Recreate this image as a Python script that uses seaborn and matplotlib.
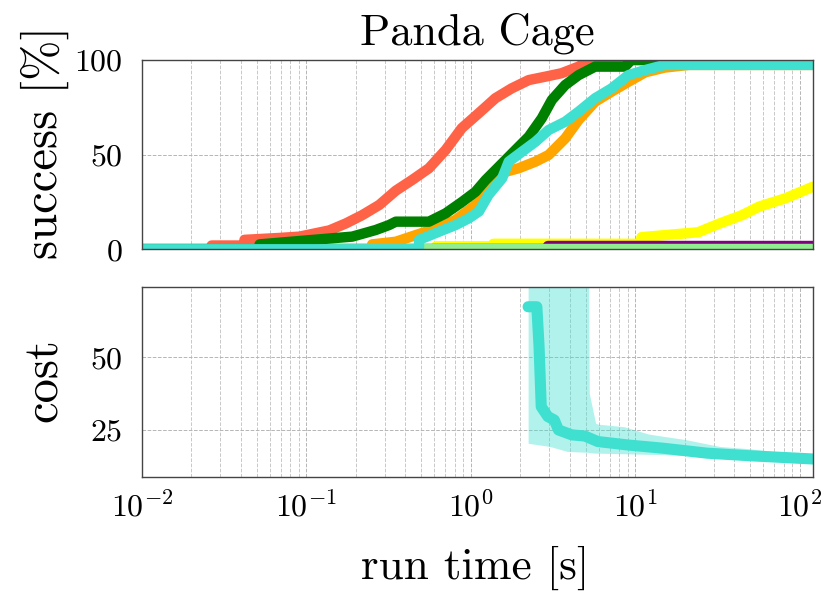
import numpy as np
import pandas as pd
import seaborn as sns
import matplotlib.pyplot as plt
from matplotlib.ticker import LogLocator, NullFormatter

# success curves, time [s] and success [%]
red_t = [0.01, 0.0265, 0.0265, 0.042, 0.042, 0.0686, 0.0908, 0.138, 0.174, 0.218, 0.277, 0.350,
         0.439, 0.556, 0.703, 0.881, 1.12, 1.41, 1.77, 2.25, 2.84, 3.56, 4.52, 5.34, 120]
red_s = [0, 0, 2, 2, 5, 6, 6.7, 10, 13.7, 18, 23.4, 31,
         36.6, 42.8, 52.5, 64, 72, 79.8, 85, 89.4, 91.2, 93, 96.5, 100, 100]

green_t = [0.01, 0.0519, 0.0519, 0.107, 0.190, 0.264, 0.318, 0.350, 0.556, 0.703, 0.883, 1.068,
           1.23, 1.48, 1.87, 2.25, 2.70, 3.11, 3.75, 4.52, 5.70, 8.66, 9.46, 120]
green_s = [0, 0, 2.6, 4.9, 6.7, 10.2, 12.8, 14.6, 14.6, 19, 25, 30.4,
           36.6, 43.6, 52.5, 59.5, 69.2, 78.9, 86.8, 92, 96.5, 96.5, 100, 100]

orange_t = [0.01, 0.251, 0.251, 0.350, 0.462, 0.611, 0.807, 1.068, 1.25, 1.48, 1.95, 2.47,
            2.97, 3.75, 4.52, 5.70, 7.18, 9.08, 11.5, 15.1, 21.2, 120]
orange_s = [0, 0, 2.6, 4, 7.5, 11, 15.5, 23.4, 33, 40, 42.8, 46.3,
            49.8, 58.6, 68.3, 78, 83.3, 88.5, 93.5, 96, 97.4, 97.4]

turq_t = [0.01, 0.484, 0.484, 0.640, 0.807, 0.973, 1.12, 1.28, 1.55, 1.70, 2.05, 2.47,
          2.97, 3.75, 4.52, 5.70, 7.18, 9.08, 11.5, 15.1, 120]
turq_s = [0, 0, 5, 9.3, 12.8, 16.4, 20, 28.7, 37.5, 46.3, 51.6, 56.8,
          63, 67.4, 72.7, 79.8, 85, 92, 94.7, 97.4, 97.4]

yellow_t = [0.01, 0.614, 0.614, 1.37, 1.37, 10.9, 10.9, 24.1, 32.7, 44.5, 56.5, 82.2, 120]
yellow_s = [0, 0, 1.6, 1.6, 2.9, 2.9, 6.4, 9, 13.7, 18, 22.5, 27, 33]

purple_t = [0.01, 2.93, 2.93, 120]
purple_s = [0, 0, 2, 2]

lgreen_t = [0.01, 120]
lgreen_s = [0, 0]

# cost of the turquoise planner
cost_t = [2.23, 2.52, 2.60, 2.68, 2.94, 3.22, 3.41, 4.11, 4.93, 5.92, 9.08, 14.8, 27.3, 50.2, 120]
cost_v = [67.4, 67.4, 53.6, 33, 29.6, 28.4, 25, 23.3, 22.9, 21, 19.8, 18.7, 17, 16.1, 15]

band_t = [2.23, 3.03, 3.86, 5.09, 5.25, 5.74, 5.92, 8.55, 12.0, 14.8, 20.1, 32.7, 50.2, 68.2, 120]
band_lo = [20.4, 19.3, 17.6, 17.3, 17.2, 17.0, 17.0, 16.8, 16.6, 16.5, 16.2, 15.6, 14.8, 14.3, 13.4]
band_hi = [200, 200, 200, 200, 37.6, 27.3, 27, 26.1, 23.6, 22.8, 21.7, 19.3, 18.5, 17.6, 16.8]

series = {
    'yellow': (yellow_t, yellow_s),
    'purple': (purple_t, purple_s),
    'lightgreen': (lgreen_t, lgreen_s),
    'tomato': (red_t, red_s),
    'orange': (orange_t, orange_s),
    'green': (green_t, green_s),
    'turquoise': (turq_t, turq_s),
}
rows = []
for name, (tt, ss) in series.items():
    for a, b in zip(tt, ss):
        rows.append({'planner': name, 'time': a, 'success': b})
df = pd.DataFrame(rows)

sns.set_theme(style='white')
plt.rcParams['font.family'] = 'serif'
plt.rcParams['font.serif'] = ['cmr10', 'DejaVu Serif']
plt.rcParams['mathtext.fontset'] = 'cm'
plt.rcParams['axes.formatter.use_mathtext'] = True
plt.rcParams['axes.unicode_minus'] = False
for key in ('text.color', 'axes.labelcolor', 'xtick.color', 'ytick.color'):
    plt.rcParams[key] = 'black'

fig = plt.figure(figsize=(8.3, 5.98), dpi=100)
W, H = 830, 598
ax1 = fig.add_axes([142 / W, 1 - 249.3 / H, 670.7 / W, 189.3 / H])
ax2 = fig.add_axes([142 / W, 1 - 476.7 / H, 670.7 / W, 190 / H])

lw = 7.5
sns.lineplot(data=df, x='time', y='success', hue='planner', units='planner', estimator=None,
             sort=False, hue_order=list(series.keys()),
             palette={k: k for k in series}, lw=lw, legend=False, ax=ax1)
ax1.set_ylim(0, 100)
ax1.set_yticks([0, 50, 100])

ax2.fill_between(band_t, band_lo, band_hi, color='turquoise', alpha=0.4, lw=0)
sns.lineplot(x=cost_t, y=cost_v, color='turquoise', lw=8, ax=ax2, sort=False)
ax2.set_ylim(8.9, 74.3)
ax2.set_yticks([25, 50])

for ax in (ax1, ax2):
    ax.set_xscale('log')
    ax.set_xlim(0.01, 120)
    ax.xaxis.set_major_locator(LogLocator(base=10, numticks=10))
    ax.xaxis.set_minor_locator(LogLocator(base=10, subs=np.arange(2, 10), numticks=20))
    ax.xaxis.set_minor_formatter(NullFormatter())
    ax.grid(True, which='major', axis='both', color='#b5b5b5', ls='--', lw=0.7)
    ax.grid(True, which='minor', axis='x', color='#c8c8c8', ls='--', lw=0.7)
    for sp in ax.spines.values():
        sp.set_color('#444444')
        sp.set_linewidth(1.0)
    ax.tick_params(axis='both', which='both', direction='in', labelsize=23, pad=14,
                   color='#444444')
    ax.tick_params(which='major', length=4)
    ax.tick_params(which='minor', length=2.5)
    ax.set_xlabel('')
    ax.set_ylabel('')

ax1.tick_params(axis='x', labelbottom=False)
ax2.tick_params(axis='x', pad=10)

ax1.set_title('Panda Cage', fontsize=32, pad=11)
fig.text(45 / W, 1 - 142 / H, 'success [%]', fontsize=35, rotation=90, ha='center', va='center')
fig.text(45 / W, 1 - 380 / H, 'cost', fontsize=35, rotation=90, ha='center', va='center')
fig.text(475 / W, 1 - 568 / H, 'run time [s]', fontsize=32.5, ha='center', va='center')

fig.savefig('out.png', dpi=100)
